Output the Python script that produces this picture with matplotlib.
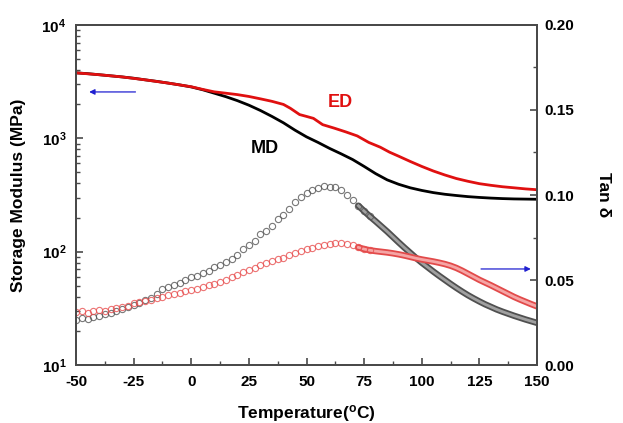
import numpy as np
import matplotlib
matplotlib.use("Agg")
import matplotlib.pyplot as plt
from matplotlib.ticker import FixedLocator, MultipleLocator, LogLocator, NullFormatter

plt.rcParams['font.family'] = ['Liberation Sans', 'DejaVu Sans']
plt.rcParams['font.weight'] = 'bold'
plt.rcParams['axes.unicode_minus'] = False
plt.rcParams['mathtext.fontset'] = 'custom'
plt.rcParams['mathtext.rm'] = 'Liberation Sans:bold'
plt.rcParams['mathtext.bf'] = 'Liberation Sans:bold'

# storage modulus (MPa), left axis
md_temp = [-50, -45, -40, -35, -30, -25, -20, -15, -10, -5, 0, 5, 10, 15, 20, 25,
           30, 35, 40, 45, 50, 55, 60, 65, 70, 75, 80, 85, 90, 95, 100, 105, 110,
           115, 120, 125, 130, 135, 140, 145, 150]
md_mod = [3780, 3720, 3640, 3560, 3480, 3390, 3280, 3180, 3070, 2960, 2840, 2680,
          2500, 2330, 2150, 1960, 1760, 1560, 1370, 1180, 1030, 920, 815, 730, 650,
          565, 488, 430, 393, 366, 347, 332, 321, 313, 306, 301, 297, 294, 292, 291, 290]

ed_temp = [-50, -40, -30, -20, -10, 0, 5, 10, 15, 20, 25, 30, 35, 40, 43, 47, 50, 53,
           57, 62, 67, 72, 77, 82, 86, 90, 95, 100, 105, 110, 115, 120, 125, 130,
           135, 140, 145, 150]
ed_mod = [3780, 3640, 3480, 3280, 3070, 2850, 2700, 2570, 2500, 2430, 2340, 2230,
          2120, 1990, 1840, 1620, 1560, 1500, 1320, 1230, 1140, 1050, 920, 835, 755,
          695, 625, 565, 515, 475, 442, 418, 398, 385, 374, 366, 358, 352]

# tan delta, right axis (2.5 C steps from -50 to 150)
tan_temp = np.arange(-50, 150.1, 2.5)
md_tan = [0.0265, 0.0275, 0.0272, 0.0285, 0.0290, 0.0298, 0.0305, 0.0320, 0.0330,
          0.0340, 0.0355, 0.0365, 0.0380, 0.0395, 0.0420, 0.0445, 0.0460, 0.0470,
          0.0485, 0.0500, 0.0515, 0.0525, 0.0540, 0.0555, 0.0575, 0.0590, 0.0605,
          0.0625, 0.0650, 0.0680, 0.0705, 0.0730, 0.0770, 0.0790, 0.0820, 0.0860,
          0.0885, 0.0920, 0.0960, 0.0990, 0.1010, 0.1030, 0.1040, 0.1055, 0.1050,
          0.1050, 0.1030, 0.1000, 0.0970, 0.0937, 0.0905, 0.0874, 0.0845, 0.0815,
          0.0785, 0.0753, 0.0721, 0.0690, 0.0660, 0.0630, 0.0602, 0.0576, 0.0550,
          0.0525, 0.0501, 0.0477, 0.0454, 0.0432, 0.0411, 0.0392, 0.0374, 0.0357,
          0.0342, 0.0327, 0.0314, 0.0302, 0.0290, 0.0279, 0.0268, 0.0258, 0.0248]
ed_tan = [0.0310, 0.0318, 0.0305, 0.0315, 0.0322, 0.0318, 0.0330, 0.0338, 0.0342,
          0.0350, 0.0362, 0.0368, 0.0375, 0.0382, 0.0393, 0.0398, 0.0410, 0.0418,
          0.0425, 0.0435, 0.0442, 0.0448, 0.0460, 0.0468, 0.0478, 0.0490, 0.0502,
          0.0515, 0.0532, 0.0545, 0.0558, 0.0572, 0.0588, 0.0598, 0.0610, 0.0622,
          0.0632, 0.0645, 0.0660, 0.0672, 0.0680, 0.0690, 0.0700, 0.0705, 0.0712,
          0.0715, 0.0718, 0.0712, 0.0705, 0.0692, 0.0682, 0.0675, 0.0670, 0.0666,
          0.0662, 0.0657, 0.0651, 0.0644, 0.0636, 0.0628, 0.0621, 0.0615, 0.0609,
          0.0602, 0.0594, 0.0584, 0.0571, 0.0555, 0.0537, 0.0519, 0.0501, 0.0485,
          0.0469, 0.0452, 0.0435, 0.0418, 0.0401, 0.0386, 0.0372, 0.0358, 0.0345]

fig = plt.figure(figsize=(6.23, 4.23), dpi=100)
ax = fig.add_axes([0.122, 0.137, 0.740, 0.804])
ax2 = ax.twinx()

spine_col = '#4a4a4a'

ax.plot(md_temp, md_mod, color='black', lw=2)
ax.plot(ed_temp, ed_mod, color='#e01010', lw=2)
ax.set_yscale('log')
ax.set_xlim(-50, 150)
ax.set_ylim(10, 1e4)

# dense part of the tan delta data (above ~72 C) looks like a solid band
dense = tan_temp >= 72
md_arr = np.array(md_tan)
ed_arr = np.array(ed_tan)
ax2.plot(tan_temp[dense], md_arr[dense], color='#505050', lw=4.6, solid_capstyle='round')
ax2.plot(tan_temp[dense], md_arr[dense], color='#a0a0a0', lw=2.0)
ax2.plot(tan_temp[dense], ed_arr[dense], color='#e24a4a', lw=4.6, solid_capstyle='round')
ax2.plot(tan_temp[dense], ed_arr[dense], color='#f5a5a5', lw=2.0)
ax2.plot(tan_temp[tan_temp < 80], md_arr[tan_temp < 80], 'o', ms=4.5, mfc='none',
         mec='#555555', mew=0.8, alpha=0.8)
ax2.plot(tan_temp[tan_temp < 80], ed_arr[tan_temp < 80], 'o', ms=4.5, mfc='none',
         mec='#e85050', mew=0.8, alpha=0.8)
ax2.set_ylim(0, 0.20)

# ticks
ax.xaxis.set_major_locator(MultipleLocator(25))
ax.xaxis.set_minor_locator(MultipleLocator(12.5))
ax.yaxis.set_major_locator(FixedLocator([10, 100, 1000, 10000]))
ax.yaxis.set_minor_locator(LogLocator(base=10, subs=np.arange(2, 10)))
ax.yaxis.set_minor_formatter(NullFormatter())
ax.set_yticklabels([r'$\mathbf{10^{1}}$', r'$\mathbf{10^{2}}$',
                    r'$\mathbf{10^{3}}$', r'$\mathbf{10^{4}}$'])
ax.tick_params(axis='both', which='both', direction='in', top=False, right=False,
               color=spine_col, labelsize=11)
ax.tick_params(which='major', length=5, width=1.2, pad=7)
ax.tick_params(which='minor', length=3, width=1.0)

ax2.yaxis.set_major_locator(MultipleLocator(0.05))
ax2.yaxis.set_minor_locator(MultipleLocator(0.025))
ax2.yaxis.set_major_formatter(plt.FormatStrFormatter('%.2f'))
ax2.tick_params(axis='y', which='both', direction='in', color=spine_col, labelsize=11)
ax2.tick_params(which='major', length=5, width=1.2, pad=5)
ax2.tick_params(which='minor', length=3, width=1.0)

for a in (ax, ax2):
    for s in a.spines.values():
        s.set_color(spine_col)
        s.set_linewidth(1.4)

ax.set_xlabel(r'Temperature($\mathbf{^{o}}$C)', fontsize=12.5, fontweight='bold', labelpad=10)
ax.set_ylabel('Storage Modulus (MPa)', fontsize=12.5, fontweight='bold', labelpad=11)
ax2.set_ylabel('Tan δ', fontsize=12.5, fontweight='bold', rotation=270, labelpad=27)

# curve labels and arrows
ax.text(64.5, 2090, 'ED', color='#e01010', fontsize=13, fontweight='bold', ha='center', va='center')
ax.text(32, 820, 'MD', color='black', fontsize=13, fontweight='bold', ha='center', va='center')
ax.annotate('', xy=(-45.5, 2565), xytext=(-23, 2565),
            arrowprops=dict(arrowstyle='-|>', color='#2020d0', lw=0.9,
                            mutation_scale=8))
ax2.annotate('', xy=(148.5, 0.0565), xytext=(124.5, 0.0565),
             arrowprops=dict(arrowstyle='-|>', color='#2020d0', lw=0.9,
                             mutation_scale=8))

fig.savefig('out.png', dpi=100)
